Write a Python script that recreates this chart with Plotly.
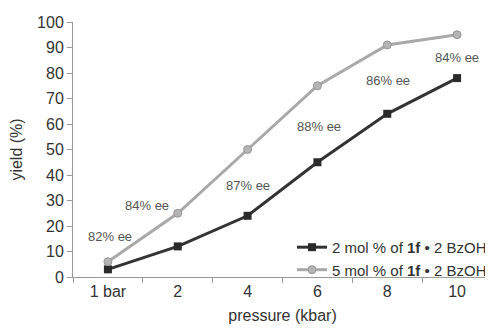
import plotly.graph_objects as go

categories = ["1 bar", "2", "4", "6", "8", "10"]
yield_2mol = [3, 12, 24, 45, 64, 78]
yield_5mol = [6, 25, 50, 75, 91, 95]
ee_labels = ["82% ee", "84% ee", "87% ee", "88% ee", "86% ee", "84% ee"]
ee_x = [0.03, 0.56, 2.0, 3.02, 4.01, 5.0]
ee_y = [16, 28, 36, 59, 77, 86]

FONT = "Liberation Sans, Arial, sans-serif"

fig = go.Figure()
fig.add_trace(go.Scatter(
    x=categories, y=yield_2mol, mode="lines+markers",
    name="2 mol % of <b>1f</b> • 2 BzOH",
    line=dict(color="#333333", width=3),
    marker=dict(symbol="square", size=8, color="#2a2a2a"),
))
fig.add_trace(go.Scatter(
    x=categories, y=yield_5mol, mode="lines+markers",
    name="5 mol % of <b>1f</b> • 2 BzOH",
    line=dict(color="#a9a9a9", width=3),
    marker=dict(symbol="circle", size=8, color="#b4b4b4",
                line=dict(color="#959595", width=1)),
))

for x, y, t in zip(ee_x, ee_y, ee_labels):
    fig.add_annotation(x=x, y=y, text=t, showarrow=False,
                       font=dict(family=FONT, size=13, color="#555555"))

# page body has an 8px margin, so the figure is sized to fit the window
fig.update_layout(
    width=485, height=320,
    margin=dict(l=65, r=1, t=14, b=51),
    paper_bgcolor="white", plot_bgcolor="white",
    font=dict(family=FONT, size=15, color="#333333"),
    showlegend=True,
    legend=dict(x=1.0, y=-0.035, xanchor="right", yanchor="bottom",
                bgcolor="rgba(255,255,255,0)", font=dict(size=15),
                tracegroupgap=0, itemwidth=30, borderwidth=0),
)
fig.update_xaxes(
    type="category", range=[-0.5, 5.5], automargin=False,
    showgrid=False, showline=True, linecolor="#999999", linewidth=1,
    ticks="outside", tickson="boundaries", ticklen=5, tickcolor="#999999",
    title=dict(text="pressure (kbar)", font=dict(size=16), standoff=10),
    tickfont=dict(size=16),
)
fig.update_yaxes(
    range=[0, 100], dtick=10, automargin=False,
    showgrid=False, showline=True, linecolor="#999999", linewidth=1,
    ticks="outside", ticklen=5, tickcolor="#999999",
    title=dict(text="yield (%)", font=dict(size=16), standoff=16),
    tickfont=dict(size=16), zeroline=False,
)

fig.write_html("out.html")
